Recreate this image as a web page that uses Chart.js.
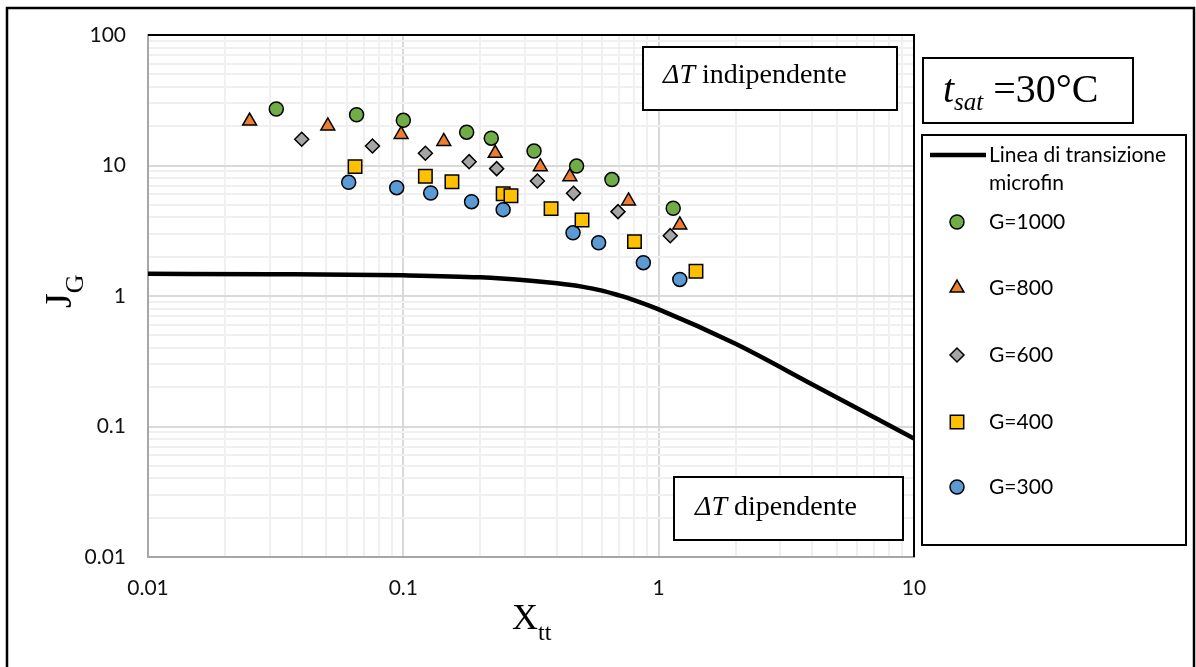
<!DOCTYPE html>
<html><head><meta charset="utf-8">
<script src="https://cdn.jsdelivr.net/npm/chart.js@4/dist/chart.umd.min.js"></script>
<style>html,body{margin:0;padding:0;background:#fff;} canvas{display:block;}</style>
</head><body>
<canvas id="c" width="1196" height="667"></canvas>
<script>
// ---- data ----
const xTickLabels = [0.01, 0.1, 1, 10];
const yTickLabels = [0.01, 0.1, 1, 10, 100];

const transX = [0.01, 0.03, 0.1, 0.2, 0.3, 0.4, 0.5, 0.6, 0.7, 0.8, 1, 2, 4, 10];
const transY = [1.48, 1.47, 1.44, 1.39, 1.32, 1.25, 1.18, 1.10, 1.01, 0.93, 0.79, 0.43, 0.21, 0.081];

const g1000X = [0.0318, 0.0656, 0.1, 0.177, 0.221, 0.325, 0.477, 0.656, 1.14];
const g1000Y = [27.1, 24.5, 22.2, 18.0, 16.2, 12.9, 9.9, 7.8, 4.7];
const g800X = [0.025, 0.0506, 0.098, 0.144, 0.229, 0.344, 0.449, 0.762, 1.21];
const g800Y = [21.9, 20.1, 17.3, 15.3, 12.4, 9.8, 8.2, 5.35, 3.5];
const g600X = [0.040, 0.0757, 0.122, 0.181, 0.232, 0.335, 0.464, 0.693, 1.11];
const g600Y = [15.9, 14.1, 12.4, 10.7, 9.46, 7.6, 6.12, 4.43, 2.9];
const g400X = [0.0647, 0.122, 0.155, 0.246, 0.264, 0.379, 0.501, 0.804, 1.40];
const g400Y = [9.8, 8.26, 7.51, 6.08, 5.87, 4.67, 3.82, 2.61, 1.55];
const g300X = [0.0611, 0.0942, 0.128, 0.185, 0.246, 0.462, 0.582, 0.871, 1.21];
const g300Y = [7.43, 6.76, 6.16, 5.28, 4.59, 3.05, 2.56, 1.80, 1.34];

const seriesNames = ['Linea di transizione microfin', 'G=1000', 'G=800', 'G=600', 'G=400', 'G=300'];

const pts = (xs, ys) => xs.map((x, i) => ({x, y: ys[i]}));

function logTicks(scale) {
  const lo = Math.round(Math.log10(scale.min)), hi = Math.round(Math.log10(scale.max));
  const t = [];
  for (let e = lo; e <= hi; e++) {
    for (let k = 1; k <= 9; k++) {
      if (e === hi && k > 1) break;
      t.push({value: Number((k * Math.pow(10, e)).toPrecision(6)), major: k === 1});
    }
  }
  scale.ticks = t;
}
const isDecade = v => Math.abs(Math.log10(v) - Math.round(Math.log10(v))) < 1e-9;
const gridColor = c => (c.tick && isDecade(c.tick.value)) ? '#d9d9d9' : '#f0f0f0';

const mk = (label, data, style, color, radius, order) => ({
  type: 'scatter', label, data, pointStyle: style, backgroundColor: color,
  borderColor: '#000', borderWidth: 1.5, pointRadius: radius, pointHoverRadius: radius, order
});

const overlay = {
  id: 'overlay',
  afterDraw(chart) {
    const ctx = chart.ctx, a = chart.chartArea;
    ctx.save();
    // plot area top/right border
    ctx.strokeStyle = '#000'; ctx.lineWidth = 2;
    ctx.beginPath(); ctx.moveTo(a.left, a.top); ctx.lineTo(a.right, a.top); ctx.lineTo(a.right, a.bottom); ctx.stroke();
    // outer frame
    ctx.lineWidth = 2.5;
    ctx.strokeRect(7, 8, 1187, 680);

    // text boxes
    function box(x1, y1, x2, y2) {
      ctx.fillStyle = '#fff'; ctx.fillRect(x1, y1, x2 - x1, y2 - y1);
      ctx.strokeStyle = '#000'; ctx.lineWidth = 2; ctx.strokeRect(x1, y1, x2 - x1, y2 - y1);
    }
    ctx.textBaseline = 'alphabetic'; ctx.textAlign = 'left'; ctx.fillStyle = '#000';
    function dT(x, y, rest) {
      ctx.fillStyle = '#000';
      ctx.font = 'italic 28px "Liberation Serif", serif';
      ctx.fillText('ΔT', x, y);
      const w = ctx.measureText('ΔT').width;
      ctx.font = '28px "Liberation Serif", serif';
      ctx.fillText(' ' + rest, x + w, y);
    }
    box(643, 47, 897, 110); dT(663, 83, 'indipendente');
    box(674, 477, 903, 540); dT(695, 515, 'dipendente');

    // t_sat box
    box(923, 58, 1133, 123);
    ctx.fillStyle = '#000';
    ctx.font = 'italic 40px "Liberation Serif", serif';
    ctx.fillText('t', 943, 102);
    let x = 943 + ctx.measureText('t').width;
    ctx.font = 'italic 25px "Liberation Serif", serif';
    ctx.fillText('sat', x, 110);
    x += ctx.measureText('sat').width;
    ctx.font = '40px "Liberation Serif", serif';
    ctx.fillText(' =30°C', x, 102);

    // legend box
    ctx.lineWidth = 2; ctx.strokeStyle = '#000';
    ctx.strokeRect(922, 135, 264, 410);
    ctx.beginPath(); ctx.lineWidth = 4.5; ctx.moveTo(930, 155); ctx.lineTo(986, 155); ctx.stroke();
    ctx.font = '21px Lato, sans-serif'; ctx.textBaseline = 'middle'; ctx.fillStyle = '#000';
    ctx.fillText('Linea di transizione', 989, 155);
    ctx.fillText('microfin', 989, 183);
    const ys = [222, 288, 355, 422, 487];
    chart.data.datasets.slice(1).forEach((ds, i) => {
      ctx.fillStyle = ds.backgroundColor; ctx.strokeStyle = '#000'; ctx.lineWidth = 1.5;
      Chart.helpers.drawPoint(ctx, {pointStyle: ds.pointStyle, radius: ds.pointRadius, borderWidth: 1.5, rotation: 0}, 957, ys[i]);
      ctx.fillStyle = '#000';
      ctx.fillText(ds.label, 989, ys[i]);
    });

    // axis titles
    ctx.textBaseline = 'alphabetic';
    ctx.font = '36px "Liberation Serif", serif';
    ctx.fillText('X', 512, 629);
    let xw = 512 + ctx.measureText('X').width;
    ctx.font = '24px "Liberation Serif", serif';
    ctx.fillText('tt', xw, 640);

    ctx.translate(71, 308); ctx.rotate(-Math.PI / 2);
    ctx.font = '38px "Liberation Serif", serif';
    ctx.fillText('J', 0, 0);
    const jw = ctx.measureText('J').width;
    ctx.font = '26px "Liberation Serif", serif';
    ctx.fillText('G', jw, 12);
    ctx.restore();
  }
};

new Chart(document.getElementById('c'), {
  data: {
    datasets: [
      {type: 'line', label: seriesNames[0], data: pts(transX, transY), borderColor: '#000', borderWidth: 4.5,
       pointRadius: 0, fill: false, cubicInterpolationMode: 'monotone', order: 10},
      mk(seriesNames[1], pts(g1000X, g1000Y), 'circle', '#70AD47', 7, 1),
      mk(seriesNames[2], pts(g800X, g800Y), 'triangle', '#ED7D31', 8, 2),
      mk(seriesNames[3], pts(g600X, g600Y), 'rectRot', '#A5A5A5', 7, 3),
      mk(seriesNames[4], pts(g400X, g400Y), 'rect', '#FFC000', 9.5, 4),
      mk(seriesNames[5], pts(g300X, g300Y), 'circle', '#5B9BD5', 7, 5)
    ]
  },
  options: {
    responsive: false, animation: false, devicePixelRatio: 1,
    layout: {padding: {left: 0, top: 35, right: 282, bottom: 0}},
    plugins: {legend: {display: false}, tooltip: {enabled: false}},
    scales: {
      x: {
        type: 'logarithmic', min: 0.01, max: 10, position: 'bottom',
        afterBuildTicks: logTicks,
        afterFit: s => { s.height = 110; },
        ticks: {autoSkip: false, maxRotation: 0, padding: 19, color: '#111', font: {family: 'Lato', size: 21},
          callback: v => xTickLabels.includes(v) ? String(v) : ''},
        grid: {color: gridColor, lineWidth: 2, drawTicks: false},
        border: {display: true, color: '#a6a6a6', width: 2}
      },
      y: {
        type: 'logarithmic', min: 0.01, max: 100,
        afterBuildTicks: logTicks,
        afterFit: s => { s.width = 148; },
        ticks: {autoSkip: false, padding: 22, color: '#111', font: {family: 'Lato', size: 21},
          callback: v => yTickLabels.includes(v) ? String(v) : ''},
        grid: {color: gridColor, lineWidth: 2, drawTicks: false},
        border: {display: true, color: '#a6a6a6', width: 2}
      }
    }
  },
  plugins: [overlay]
});
</script>
</body></html>
